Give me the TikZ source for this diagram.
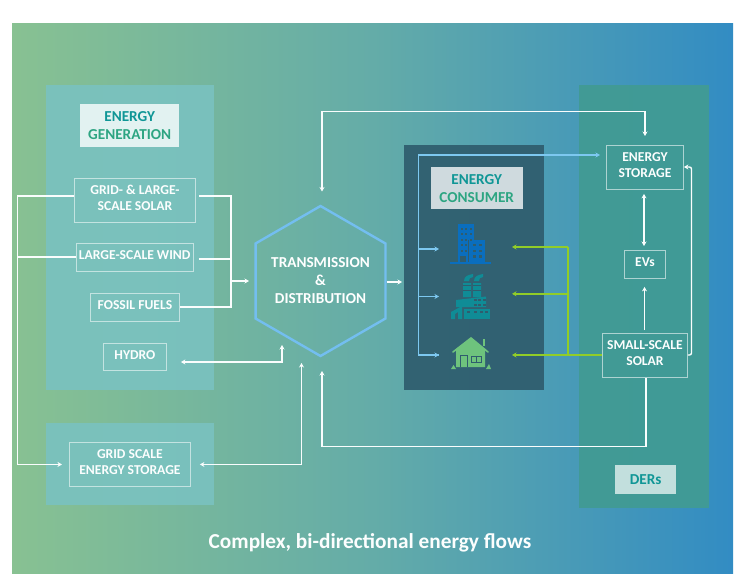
\documentclass[tikz,border=0pt]{standalone}
\usepackage{fontspec}
\setmainfont{Carlito}
\usetikzlibrary{arrows.meta,shapes.geometric}
\definecolor{bgL}{RGB}{136,193,146}
\definecolor{bgM}{RGB}{100,172,168}
\definecolor{bgR}{RGB}{50,140,195}
\definecolor{genP}{RGB}{122,194,192}
\definecolor{conP}{RGB}{47,93,110}
\definecolor{derP}{RGB}{65,155,148}
\definecolor{tealT}{RGB}{15,150,150}
\definecolor{greenT}{RGB}{45,165,130}
\definecolor{boxL}{RGB}{190,225,225}
\definecolor{hexB}{RGB}{115,190,240}
\definecolor{flowB}{RGB}{125,200,240}
\definecolor{flowG}{RGB}{145,205,40}
\definecolor{bldg}{RGB}{10,110,190}
\definecolor{fact}{RGB}{15,140,150}
\definecolor{hous}{RGB}{110,195,125}
\newcommand{\boxtext}[1]{\begin{tabular}{@{}c@{}}#1\\[2pt]\end{tabular}}
\tikzset{
  panel/.style={inner sep=0pt,outer sep=0pt,anchor=north west},
  flowbox/.style={draw=white!85!boxL,draw opacity=.6,line width=.9pt,text=white!96!boxL,font=\bfseries\fontsize{13.6}{16}\selectfont,inner sep=0pt,anchor=north west},
  titlebox/.style={align=center,inner sep=0pt,anchor=north west,font=\bfseries\fontsize{15.2}{18}\selectfont},
  tip/.style={-{Stealth[length=4.5pt,width=5pt]}},
  tips/.style={{Stealth[length=4.5pt,width=5pt]}-{Stealth[length=4.5pt,width=5pt]}},
  wflow/.style={draw=white!92!boxL,line width=1.4pt},
  bflow/.style={draw=flowB,line width=1.4pt},
  gflow/.style={draw=flowG,line width=1.5pt},
}
\begin{document}
\begin{tikzpicture}[x=1pt,y=-1pt]
\useasboundingbox (0,0) rectangle (742,584);
\node[panel,minimum width=721pt,minimum height=550pt,left color=bgL,right color=bgR,middle color=bgM] (bg) at (12,23) {};
% panels
\node[panel,fill=genP,fill opacity=.9,minimum width=168pt,minimum height=305pt] (genpanel) at (46,85) {};
\node[panel,fill=genP,fill opacity=.9,minimum width=168pt,minimum height=82pt] (storepanel) at (46,423) {};
\node[panel,fill=conP,fill opacity=.93,minimum width=140pt,minimum height=245pt] (conpanel) at (404,145) {};
\node[panel,fill=derP,fill opacity=.95,minimum width=130pt,minimum height=423pt] (derpanel) at (579,85) {};
% titles
\node[titlebox,fill=white!78!genP,minimum width=99pt,minimum height=43pt] (gentitle) at (80,104) {\textcolor{tealT}{ENERGY}\\\textcolor{greenT}{GENERATION}};
\node[titlebox,fill=white!77!conP,minimum width=92pt,minimum height=42pt] (contitle) at (430.5,167) {\textcolor{tealT}{ENERGY}\\\textcolor{greenT}{CONSUMER}};
\node[titlebox,fill=white!68!derP,minimum width=61pt,minimum height=29pt,text=tealT] (derlabel) at (615,465) {DERs};
% boxes
\node[flowbox,minimum width=121pt,minimum height=44pt] (solar) at (74,178) {\boxtext{GRID- \& LARGE-\\SCALE SOLAR}};
\node[flowbox,minimum width=117.5pt,minimum height=28pt] (wind) at (75.5,243) {\boxtext{LARGE-SCALE WIND}};
\node[flowbox,minimum width=89pt,minimum height=28pt] (fossil) at (90,293) {\boxtext{FOSSIL FUELS}};
\node[flowbox,minimum width=63pt,minimum height=27pt] (hydro) at (103,343) {\boxtext{HYDRO}};
\node[flowbox,minimum width=121pt,minimum height=44pt] (gridstore) at (69,442) {\boxtext{GRID SCALE\\ENERGY STORAGE}};
\node[flowbox,minimum width=77pt,minimum height=44pt] (storage) at (606,145) {\boxtext{ENERGY\\STORAGE}};
\node[flowbox,minimum width=41pt,minimum height=28pt] (evs) at (624,250) {\boxtext{EVs}};
\node[flowbox,minimum width=85pt,minimum height=44pt] (small) at (602,333) {\boxtext{SMALL-SCALE\\SOLAR}};
% hexagon
\node[regular polygon,regular polygon sides=6,regular polygon rotate=30,draw=hexB,line width=2.4pt,minimum size=150pt,inner sep=0pt,label={[align=center,text=white,inner sep=0pt,font=\bfseries\fontsize{15.2}{18}\selectfont]center:TRANSMISSION\\\&\\DISTRIBUTION}] (hex) at (320.5,281) {};
% free ends
\coordinate (genbus) at (231,281);
\coordinate (hexin) at (249,281);
\coordinate (leftbus) at (17.5,300);
\coordinate (hexout) at (402,282);
\coordinate (hexhydro) at (282,345);
\coordinate (hexgrid) at (301.5,363);
\coordinate (hexdown) at (322,371);
\coordinate (hextop) at (322,191.5);
\coordinate (bluebus) at (418.5,155);
\coordinate (b1) at (439,249);
\coordinate (b2) at (439,296.5);
\coordinate (b3) at (439,355);
\coordinate (g1) at (512,247);
\coordinate (g2) at (512,293.8);
\coordinate (g3) at (512,355);
\coordinate (greenbus) at (568,355);
% generation bus
\draw[wflow] (solar.east |- 0,196) ++(3.5,0) -| (genbus);
\draw[wflow] (wind.east |- 0,259) ++(5,0) -| (genbus);
\draw[wflow] (fossil.east |- 0,307) -| (genbus);
\draw[wflow,tip] (genbus) -- (hexin);
% left bus
\draw[wflow] (solar.west |- 0,196) -| (leftbus);
\draw[wflow] (wind.west |- 0,257) -| (leftbus);
\draw[wflow,tip,shorten >=7pt] (leftbus) |- (gridstore.west);
% hydro, grid storage
\draw[wflow,tips,shorten <=14pt] (hydro.east |- 0,362) -| (hexhydro);
\draw[wflow,tips,shorten <=9pt] (gridstore.east) -| (hexgrid);
% loops
\draw[wflow,tips] (hextop) |- (645,111.5) -- (645,136);
\draw[wflow,tip] (small.south -| 646,0) |- (322,446.5) -- (hexdown);
% hex to consumer
\draw[wflow,tip] (hex.east |- hexout) -- (hexout);
% blue
\draw[bflow,tip,shorten >=6pt] (b3) -| (bluebus) -- (storage.west |- bluebus);
\draw[bflow,tip] (bluebus |- b1) -- (b1);
\draw[bflow,tip] (bluebus |- b2) -- (b2);
\draw[bflow,tip] (bluebus |- b3) -- (b3);
% green
\draw[gflow,tip] (greenbus |- g1) -- (g1);
\draw[gflow,tip] (greenbus |- g2) -- (g2);
\draw[gflow,tip] (small.west |- g3) -- (g3);
\draw[gflow] (greenbus |- g1) -- (greenbus);
% DER internal
\draw[wflow,tips,shorten <=4pt,shorten >=4pt] (storage.south -| 644,0) -- (evs.north -| 644,0);
\draw[wflow,tip,shorten <=3pt,shorten >=8pt] (small.north -| 644.5,0) -- (evs.south -| 644.5,0);
\draw[wflow,tip,rounded corners=2pt] (small.east |- 0,355) -- (691.5,355) -- (691.5,167) -- (storage.east |- 0,167);
% building icon
\fill[bldg] (458,224) rectangle (474,262);
\fill[bldg] (469,240) rectangle (484.5,262);
\draw[conP,line width=1pt] (468.5,240) -- (468.5,262);
\fill[bldg] (450,261.5) rectangle (491,263.5);
\foreach \x in {461,465,469.5}{\foreach \y in {227.5,233,238.5}{\fill[conP] (\x,\y) rectangle +(2.2,2.2);}}
\foreach \x in {461,465}{\foreach \y in {244,249.5}{\fill[conP] (\x,\y) rectangle +(2.2,2.2);}}
\foreach \x in {473,479}{\foreach \y in {243.5,249.5,255}{\fill[conP] (\x,\y) rectangle +(2.5,2.5);}}
\fill[conP] (460,256) rectangle (466,262);
% factory icon
\fill[fact] (463,283) rectangle (471,297) (473,283) rectangle (481,297);
\fill[fact] (464,281) .. controls (464,276) and (468,275) .. (473,274) -- (473,277) .. controls (470,277) and (469,279) .. (469,281) -- cycle;
\fill[fact] (474,281) .. controls (474,276) and (478,275) .. (483,274) -- (483,277) .. controls (480,277) and (479,279) .. (479,281) -- cycle;
\draw[conP,line width=.8pt] (463,285) -- (471,285) (473,285) -- (481,285) (463,290) -- (471,290) (473,290) -- (481,290);
\fill[fact] (456,300) -- (486,296.5) -- (486,307) -- (456,307) -- cycle;
\fill[fact] (464,309) rectangle (490,319);
\fill[fact] (451,319) -- (451,312) -- (462,306) -- (462,319) -- (458,319) -- (458,312) -- (455,314) -- (455,319) -- cycle;
\foreach \x in {474,478,483}{\fill[conP] (\x,299) rectangle +(2.5,2);}
\foreach \x in {474,478,483}{\fill[conP] (\x,303.5) rectangle +(2.5,2);}
\foreach \x in {467,474,480,485}{\fill[conP] (\x,311) rectangle +(3,2);}
% house icon
\fill[hous] (456,349) -- (471,338) -- (485,349) -- (485,367) -- (456,367) -- cycle;
\draw[hous,line width=1.6pt,line cap=round] (453,352) -- (471,338) -- (488,352);
\fill[hous] (482.5,339) rectangle (484.5,346);
\fill[hous] (451,369) -- (453.5,365) -- (456,369) -- cycle (486,369) -- (489,364) -- (491,369) -- cycle;
\draw[conP,line width=.8pt] (460.5,367) -- (460.5,355) -- (467.5,355) -- (467.5,367);
\draw[conP,line width=.8pt] (471.5,356) rectangle (481,362) (476.2,356) -- (476.2,362);
% caption
\node[text=white!96!boxL,font=\bfseries\fontsize{21.3}{24}\selectfont,inner sep=0pt] (caption) at (370,543) {Complex, bi-directional energy flows};
\end{tikzpicture}
\end{document}
